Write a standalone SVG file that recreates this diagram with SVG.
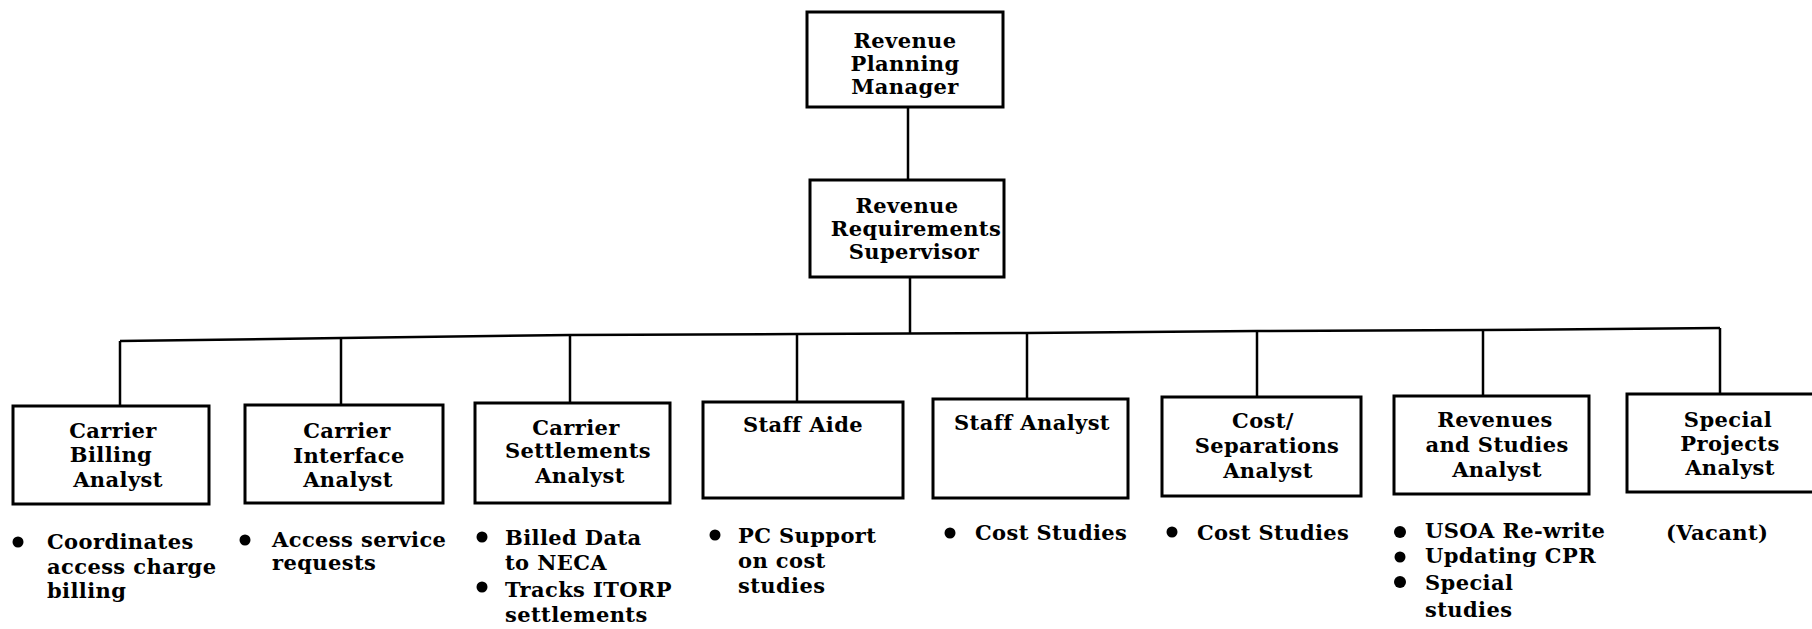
<svg xmlns="http://www.w3.org/2000/svg" width="1812" height="629" viewBox="0 0 1812 629">
  <style>
    .box { fill: #fff; stroke: #000; stroke-width: 3; }
    .wire { fill: none; stroke: #000; stroke-width: 2.5; stroke-linejoin: round; }
    text { font-family: "DejaVu Serif", "Liberation Serif", serif; font-weight: bold; font-size: 21px; letter-spacing: 0.4px; fill: #000; }
    .c { text-anchor: middle; }
    .dot { fill: #000; }
  </style>
  <rect width="1812" height="629" fill="#fff"/>

  <!-- reporting lines -->
  <g id="connectors">
    <line class="wire" x1="908" y1="107" x2="908" y2="180"/>
    <line class="wire" x1="910" y1="277" x2="910" y2="333"/>
    <polyline class="wire" points="120,341 341,338 570,335 797,334 1027,333 1257,331 1483,330 1720,328"/>
    <line class="wire" x1="120" y1="341" x2="120" y2="406"/>
    <line class="wire" x1="341" y1="338" x2="341" y2="405"/>
    <line class="wire" x1="570" y1="335" x2="570" y2="403"/>
    <line class="wire" x1="797" y1="334" x2="797" y2="402"/>
    <line class="wire" x1="1027" y1="333" x2="1027" y2="399"/>
    <line class="wire" x1="1257" y1="331" x2="1257" y2="397"/>
    <line class="wire" x1="1483" y1="330" x2="1483" y2="396"/>
    <line class="wire" x1="1720" y1="328" x2="1720" y2="394"/>
  </g>

  <g id="manager">
    <rect class="box" x="807" y="12" width="196" height="95"/>
    <text class="c" x="905" y="48">Revenue</text>
    <text class="c" x="905" y="71">Planning</text>
    <text class="c" x="905" y="94">Manager</text>
  </g>

  <g id="supervisor">
    <rect class="box" x="810" y="180" width="194" height="97"/>
    <text class="c" x="907" y="213">Revenue</text>
    <text class="c" x="916" y="236">Requirements</text>
    <text class="c" x="914" y="259">Supervisor</text>
  </g>

  <g id="carrier-billing">
    <rect class="box" x="13" y="406" width="196" height="98"/>
    <text class="c" x="113" y="438">Carrier</text>
    <text class="c" x="111" y="462">Billing</text>
    <text class="c" x="118" y="487">Analyst</text>
    <circle class="dot" cx="18" cy="542" r="5.5"/>
    <text x="47" y="549">Coordinates</text>
    <text x="47" y="574">access charge</text>
    <text x="47" y="598">billing</text>
  </g>

  <g id="carrier-interface">
    <rect class="box" x="245" y="405" width="198" height="98"/>
    <text class="c" x="347" y="438">Carrier</text>
    <text class="c" x="349" y="463">Interface</text>
    <text class="c" x="348" y="487">Analyst</text>
    <circle class="dot" cx="245" cy="540" r="5.5"/>
    <text x="272" y="547">Access service</text>
    <text x="272" y="570">requests</text>
  </g>

  <g id="carrier-settlements">
    <rect class="box" x="475" y="403" width="195" height="100"/>
    <text class="c" x="576" y="435">Carrier</text>
    <text class="c" x="578" y="458">Settlements</text>
    <text class="c" x="580" y="483">Analyst</text>
    <circle class="dot" cx="482" cy="537" r="5.5"/>
    <text x="505" y="545">Billed Data</text>
    <text x="505" y="570">to NECA</text>
    <circle class="dot" cx="482" cy="587" r="5.5"/>
    <text x="505" y="597">Tracks ITORP</text>
    <text x="505" y="622">settlements</text>
  </g>

  <g id="staff-aide">
    <rect class="box" x="703" y="402" width="200" height="96"/>
    <text class="c" x="803" y="432">Staff Aide</text>
    <circle class="dot" cx="715" cy="535" r="5.5"/>
    <text x="738" y="543">PC Support</text>
    <text x="738" y="568">on cost</text>
    <text x="738" y="593">studies</text>
  </g>

  <g id="staff-analyst">
    <rect class="box" x="933" y="399" width="195" height="99"/>
    <text class="c" x="1032" y="430">Staff Analyst</text>
    <circle class="dot" cx="950" cy="533" r="5.5"/>
    <text x="975" y="540">Cost Studies</text>
  </g>

  <g id="cost-separations">
    <rect class="box" x="1162" y="397" width="199" height="99"/>
    <text class="c" x="1263" y="428">Cost/</text>
    <text class="c" x="1267" y="453">Separations</text>
    <text class="c" x="1268" y="478">Analyst</text>
    <circle class="dot" cx="1172" cy="532" r="5.5"/>
    <text x="1197" y="540">Cost Studies</text>
  </g>

  <g id="revenues-studies">
    <rect class="box" x="1394" y="396" width="195" height="98"/>
    <text class="c" x="1495" y="427">Revenues</text>
    <text class="c" x="1497" y="452">and Studies</text>
    <text class="c" x="1497" y="477">Analyst</text>
    <circle class="dot" cx="1400" cy="532" r="6"/>
    <circle class="dot" cx="1400" cy="557" r="5.5"/>
    <circle class="dot" cx="1400" cy="582" r="6"/>
    <text x="1425" y="538">USOA Re-write</text>
    <text x="1425" y="563">Updating CPR</text>
    <text x="1425" y="590">Special</text>
    <text x="1425" y="617">studies</text>
  </g>

  <g id="special-projects">
    <rect class="box" x="1627" y="394" width="200" height="98"/>
    <text class="c" x="1728" y="427">Special</text>
    <text class="c" x="1730" y="451">Projects</text>
    <text class="c" x="1730" y="475">Analyst</text>
    <text x="1666" y="540">(Vacant)</text>
  </g>
</svg>
